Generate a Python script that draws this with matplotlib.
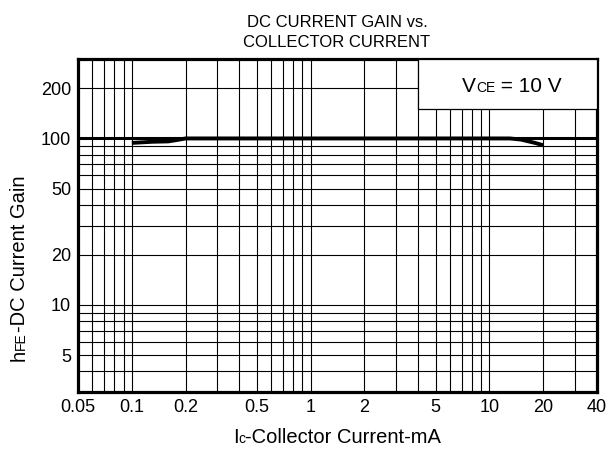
import matplotlib
matplotlib.use("Agg")
import matplotlib.pyplot as plt
from matplotlib.patches import Rectangle
from matplotlib.ticker import LogLocator, FixedLocator, FixedFormatter, NullFormatter

plt.rcParams["font.family"] = ["Liberation Sans", "DejaVu Sans"]

# hFE vs Ic
ic_ma = [0.1, 0.13, 0.16, 0.18, 0.2, 0.5, 1, 2, 5, 10, 13, 15, 18, 20]
hfe = [94, 95.5, 96, 98, 100, 100, 100, 100, 100, 100, 100, 98.5, 94, 91]

x_ticks = [0.05, 0.1, 0.2, 0.5, 1, 2, 5, 10, 20, 40]
x_labels = ["0.05", "0.1", "0.2", "0.5", "1", "2", "5", "10", "20", "40"]
y_ticks = [5, 10, 20, 50, 100, 200]
y_labels = ["5", "10", "20", "50", "100", "200"]

W, H, DPI = 6.09, 4.58, 100
fig = plt.figure(figsize=(W, H), dpi=DPI)
ax = fig.add_axes([78 / 609, 1 - 392 / 458, 519 / 609, 333 / 458])
ax.set_xscale("log")
ax.set_yscale("log")
ax.set_xlim(0.05, 40)
ax.set_ylim(3, 300)

ax.xaxis.set_major_locator(FixedLocator(x_ticks))
ax.xaxis.set_major_formatter(FixedFormatter(x_labels))
ax.yaxis.set_major_locator(FixedLocator(y_ticks))
ax.yaxis.set_major_formatter(FixedFormatter(y_labels))
ax.xaxis.set_minor_formatter(NullFormatter())
ax.yaxis.set_minor_formatter(NullFormatter())
ax.tick_params(which="both", length=0, labelsize=13, pad=5)

# full log-paper grid (minor locator covers every 1..9 line)
for axis in (ax.xaxis, ax.yaxis):
    axis.set_minor_locator(LogLocator(base=10, subs=range(1, 10), numticks=50))
    axis.remove_overlapping_locs = False
ax.grid(which="minor", color="black", lw=0.8)
ax.grid(which="major", visible=False)
ax.set_axisbelow(True)
for s in ax.spines.values():
    s.set_linewidth(2.3)

ax.axhline(100, color="black", lw=2.2, zorder=3)
ax.plot(ic_ma, hfe, color="black", lw=2.8, solid_capstyle="butt", zorder=4)

# condition box
ax.add_patch(Rectangle((4, 150), 40 - 4, 300 - 150, facecolor="white",
                       edgecolor="black", lw=0.9, zorder=5, clip_on=True))

fig.text(337 / 609, 1 - 50 / 458, "DC CURRENT GAIN vs.\nCOLLECTOR CURRENT",
         ha="center", va="bottom", fontsize=12, linespacing=1.45)

renderer = fig.canvas.get_renderer()


def rich(parts, cx, cy, vertical=False):
    """Draw text pieces of mixed size on a shared baseline, centred at cx/cy (px)."""
    widths = []
    for s, size in parts:
        t = fig.text(0, 0, s, fontsize=size)
        widths.append(t.get_window_extent(renderer).width)
        t.remove()
    total = sum(widths)
    pos = -total / 2
    for (s, size), w in zip(parts, widths):
        if vertical:
            x, y = cx, H * DPI - cy + pos
            rot = 90
        else:
            x, y = cx + pos, H * DPI - cy
            rot = 0
        fig.text(x / (W * DPI), y / (H * DPI), s, fontsize=size, rotation=rot,
                 rotation_mode="anchor", ha="left", va="baseline")
        pos += w


rich([("V", 15), ("CE", 10), (" = 10 V", 15)], 512, 92)
rich([("I", 14.5), ("c", 10), ("-Collector Current-mA", 14.5)], 337, 443)
rich([("h", 14.5), ("FE", 10), ("-DC Current Gain", 14.5)], 25, 268,
     vertical=True)

fig.savefig("out.png", dpi=DPI)
